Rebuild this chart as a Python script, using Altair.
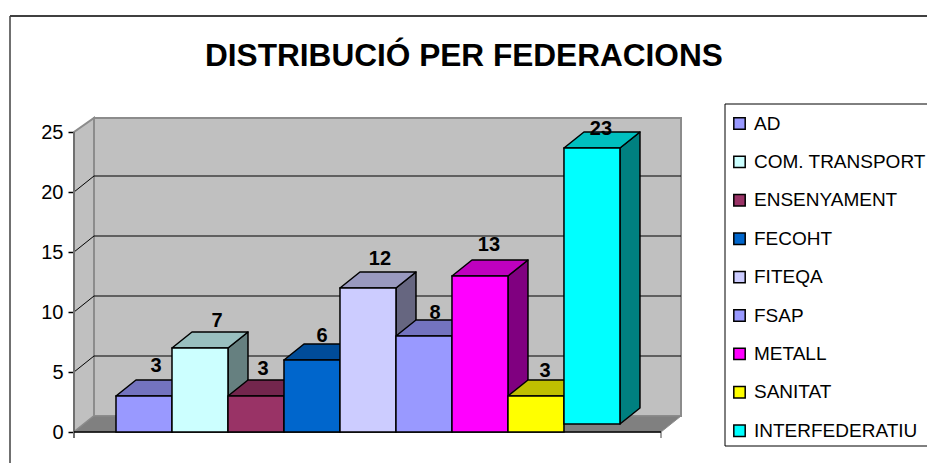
import altair as alt
import pandas as pd

categories = ["AD", "COM. TRANSPORT", "ENSENYAMENT", "FECOHT", "FITEQA", "FSAP", "METALL", "SANITAT", "INTERFEDERATIU"]
values = [3, 7, 3, 6, 12, 8, 13, 3, 23]
bases = [0, 0, 0, 0, 0, 0, 0, 0, 0.667]
front_colors = ["#9999FF", "#CCFFFF", "#993366", "#0066CC", "#CCCCFF", "#9999FF", "#FF00FF", "#FFFF00", "#00FFFF"]
top_colors = ["#7373BF", "#99BFBF", "#73264D", "#004C99", "#9999BF", "#7373BF", "#BF00BF", "#BFBF00", "#00BFBF"]
side_colors = ["#4D4D80", "#668080", "#4D1A33", "#003366", "#666680", "#4D4D80", "#800080", "#808000", "#008080"]
ticks = [0, 5, 10, 15, 20, 25]
label_dx = [12, 17, 7, 10, 12, 11, 9, 9, 9]
label_dy = [-24, -21, -21, -18, -23, -17, -25, -19, -13]

FONT = "Liberation Sans"
DX = 20 / 56      # depth of the 3D effect in category units
DY = 16 / 12      # depth of the 3D effect in value units
XMIN, XMAX = -0.75, 10.09
YMAX = 314 / 12
W, H = 607, 314

xs = alt.Scale(domain=[XMIN, XMAX], nice=False, zero=False)
ys = alt.Scale(domain=[0, YMAX], nice=False, zero=False)
y_axis = alt.Axis(values=ticks, grid=False, domain=False, tickColor="black", tickSize=6, tickWidth=1.5,
                  labelFont=FONT, labelFontSize=20, labelColor="black", labelPadding=5, title=None)
X = lambda f: alt.X(f"{f}:Q", scale=xs, axis=None, title=None)
Y = lambda f: alt.Y(f"{f}:Q", scale=ys, axis=y_axis, title=None)

bars = pd.DataFrame({"cat": categories, "i": range(9), "v": values, "b": bases})
bars["r"] = bars.i + 1
bars["t"] = bars.b + bars.v
bars["cx"] = bars.i + 0.5

side_rows, top_rows = [], []
for i in range(9):
    b, t = bases[i], bases[i] + values[i]
    # SANITAT's side lies wholly behind the raised INTERFEDERATIU bar in the reference
    if categories[i] != "SANITAT":
        side_rows += [{"c": categories[i], "x": i + 1, "y": b, "y2": t, "col": side_colors[i]},
                      {"c": categories[i], "x": i + 1 + DX, "y": b + DY, "y2": t + DY, "col": side_colors[i]}]
    top_rows += [{"c": categories[i], "x": i, "x2": i + 1, "y": t, "col": top_colors[i]},
                 {"c": categories[i], "x": i + DX, "x2": i + 1 + DX, "y": t + DY, "col": top_colors[i]}]
sides = pd.DataFrame(side_rows)
tops = pd.DataFrame(top_rows)

FRONT_R = XMAX - DX
# walls
back = alt.Chart(pd.DataFrame({"x": [DX + XMIN], "x2": [XMAX], "y": [DY], "y2": [YMAX]})).mark_rect(
    fill="#C0C0C0", stroke="#8C8C8C", strokeWidth=2
).encode(x=X("x"), x2="x2:Q", y=Y("y"), y2="y2:Q")
left_wall = alt.Chart(pd.DataFrame({"x": [XMIN, XMIN + DX], "y": [0, DY], "y2": [25, YMAX]})).mark_area(
    fill="#C0C0C0", stroke="#8C8C8C", strokeWidth=2
).encode(x=X("x"), y=Y("y"), y2="y2:Q")
floor = alt.Chart(pd.DataFrame({"x": [XMIN, XMIN + DX], "x2": [FRONT_R, XMAX], "y": [0, DY]})).mark_area(
    orient="horizontal", fill="#808080", stroke="#8C8C8C", strokeWidth=1
).encode(y=Y("y"), x=X("x"), x2="x2:Q")

grid_df = pd.DataFrame({"t": ticks[1:-1]})
grid_df["tb"] = grid_df.t + DY
grid_df["x0"] = XMIN
grid_df["x1"] = XMIN + DX
grid_df["x2"] = XMAX
grid_back = alt.Chart(grid_df).mark_rule(color="black", strokeWidth=1).encode(
    x=X("x1"), x2="x2:Q", y=Y("tb"))
grid_diag = alt.Chart(grid_df).mark_rule(color="black", strokeWidth=1).encode(
    x=X("x0"), x2="x1:Q", y=Y("t"), y2="tb:Q")

axis_line = alt.Chart(pd.DataFrame({"x": [XMIN], "a": [-0.5], "b": [25]})).mark_rule(
    color="#707070", strokeWidth=2).encode(x=X("x"), y=Y("a"), y2="b:Q")
base_line = alt.Chart(pd.DataFrame({"x": [XMIN], "x2": [FRONT_R], "y": [0]})).mark_rule(
    color="black", strokeWidth=1.5).encode(x=X("x"), x2="x2:Q", y=Y("y"))
end_tick = alt.Chart(pd.DataFrame({"x": [FRONT_R], "a": [-0.5], "b": [0]})).mark_rule(
    color="#808080", strokeWidth=1.5).encode(x=X("x"), y=Y("a"), y2="b:Q")

# bars
side_layer = alt.Chart(sides).mark_area(stroke="black", strokeWidth=1.5, strokeJoin="round").encode(
    x=X("x"), y=Y("y"), y2="y2:Q", detail="c:N", fill=alt.Fill("col:N", scale=None))
top_layer = alt.Chart(tops).mark_area(orient="horizontal", stroke="black", strokeWidth=1.5, strokeJoin="round").encode(
    y=Y("y"), x=X("x"), x2="x2:Q", detail="c:N", fill=alt.Fill("col:N", scale=None))
front_layer = alt.Chart(bars).mark_rect(stroke="black", strokeWidth=1.5).encode(
    x=X("i"), x2="r:Q", y=Y("b"), y2="t:Q",
    fill=alt.Fill("cat:N", scale=alt.Scale(domain=categories, range=front_colors),
                  sort=categories,
                  legend=alt.Legend(
                      orient="none", legendX=656, legendY=-4, title=None, padding=0,
                      symbolType="square", symbolSize=130, symbolStrokeColor="black",
                      symbolStrokeWidth=1.5, symbolOpacity=1,
                      labelFont=FONT, labelFontSize=19, labelColor="black", labelOffset=5,
                      labelLimit=300, rowPadding=18.4, values=categories)))

labels = []
for i in range(9):
    labels.append(alt.Chart(bars[bars.i == i]).mark_text(
        font=FONT, fontSize=20, fontWeight="bold", color="black", baseline="alphabetic",
        dx=label_dx[i], dy=label_dy[i]).encode(x=X("cx"), y=Y("t"), text="v:Q"))

# outer chart frame and the legend's box
frame_top = alt.Chart(pd.DataFrame({"a": [0]})).mark_rule(color="black", strokeWidth=1.5).encode(
    x=alt.value(-64), x2=alt.value(900), y=alt.value(-102))
frame_left = alt.Chart(pd.DataFrame({"a": [0]})).mark_rule(color="#404040", strokeWidth=1.5).encode(
    x=alt.value(-64), y=alt.value(-102), y2=alt.value(400))
legend_box = alt.Chart(pd.DataFrame({"a": [0]})).mark_rect(stroke="black", strokeWidth=1, fillOpacity=0).encode(
    x=alt.value(651), x2=alt.value(900), y=alt.value(-14), y2=alt.value(328))

chart = alt.layer(
    frame_top, frame_left, legend_box, back, left_wall, floor, grid_back, grid_diag,
    axis_line, end_tick, base_line, side_layer, top_layer, front_layer, *labels
).properties(
    width=W, height=H,
    title=alt.TitleParams("DISTRIBUCIÓ PER FEDERACIONS", font=FONT, fontSize=31.6, fontWeight="bold",
                          color="black", anchor="start", frame="group", dx=131, offset=-57),
    autosize=alt.AutoSizeParams(type="none"),
    padding={"left": 66, "top": 110, "right": 246, "bottom": 31},
).resolve_scale(fill="independent").configure_view(stroke=None)

chart.save("out.html", embed_options={"renderer": "svg", "actions": False})
